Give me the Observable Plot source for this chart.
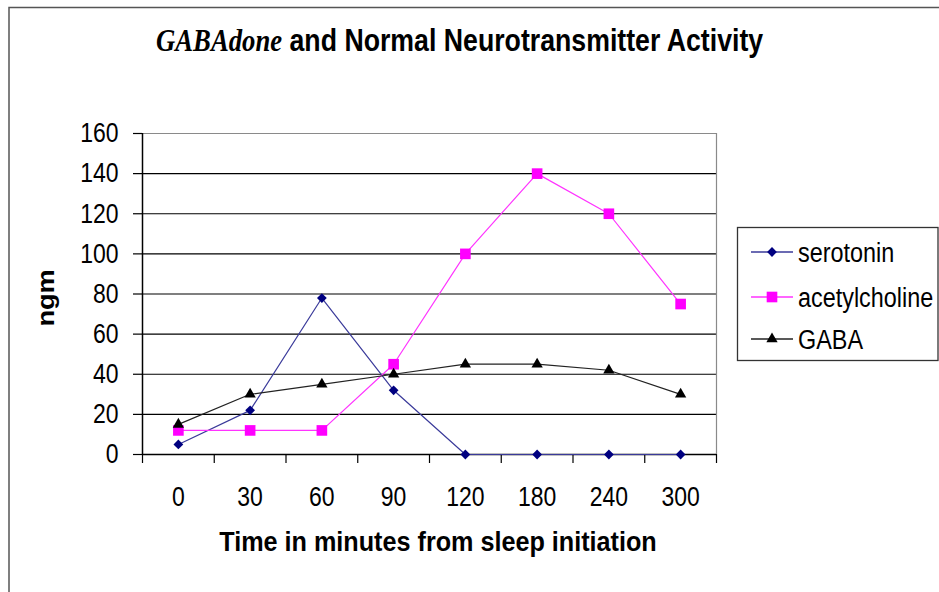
<!DOCTYPE html>
<html><head><meta charset="utf-8">
<script src="https://cdn.jsdelivr.net/npm/d3@7"></script>
<script src="https://cdn.jsdelivr.net/npm/@observablehq/plot@0.6"></script>
<style>body{margin:0;background:#fff} #chart svg{display:block}</style>
</head><body><div id="chart"></div>
<script>
const times = ["0", "30", "60", "90", "120", "180", "240", "300"];
const serotonin = [5, 22, 78, 32, 0, 0, 0, 0];
const acetylcholine = [12, 12, 12, 45, 100, 140, 120, 75];
const gaba = [15, 30, 35, 40, 45, 45, 42, 30];
const yTicks = [0, 20, 40, 60, 80, 100, 120, 140, 160];
const seriesNames = ["serotonin", "acetylcholine", "GABA"];
const seriesValues = [serotonin, acetylcholine, gaba];
const lineColors = ["#3a3a9a", "#ff33ff", "#222222"];
const markerColors = ["#000080", "#ff00ff", "#000000"];
const symbols = ["diamond2", "square", "triangle"];
const radii = [4.4, 6.0, 4.2];

const W = 939, H = 592;
const FONT = "'Liberation Sans', Arial, sans-serif";

const series = seriesNames.map((name, s) => ({
  name,
  data: seriesValues[s].map((v, i) => ({ x: i + 0.5, v, t: times[i] })),
  line: lineColors[s], fill: markerColors[s], symbol: symbols[s], r: radii[s]
}));

const marks = [
  Plot.ruleY(yTicks.filter(d => d > 0 && d < 160), { stroke: "#000", strokeWidth: 1.1 }),
  Plot.ruleY([160], { stroke: "#8a8a8a", strokeWidth: 1.2 }),
  Plot.ruleX([8], { stroke: "#8a8a8a", strokeWidth: 1.2 }),
  Plot.axisY({ ticks: yTicks, tickSize: 9, tickPadding: 15, label: null, fontSize: 23, stroke: "#000", strokeWidth: 1.2 }),
  Plot.axisX({ ticks: d3.range(0, 9), tickSize: 9, tickFormat: () => "", label: null, strokeWidth: 1.2 }),
  Plot.axisX({ ticks: times.map((t, i) => i + 0.5), tickSize: 0, tickPadding: 34, tickFormat: d => times[Math.round(d - 0.5)], label: null, fontSize: 23 }),
  Plot.ruleX([0], { stroke: "#000", strokeWidth: 1.5 }),
  Plot.ruleY([0], { stroke: "#000", strokeWidth: 1.5 })
];
for (const s of series) {
  marks.push(Plot.line(s.data, { x: "x", y: "v", stroke: s.line, strokeWidth: 1.2 }));
  marks.push(Plot.dot(s.data, { x: "x", y: "v", symbol: () => s.symbol, r: s.r, fill: s.fill, stroke: "none" }));
}

const chart = Plot.plot({
  width: W, height: H,
  marginLeft: 142, marginRight: W - 716, marginTop: 133, marginBottom: H - 454,
  style: { fontFamily: FONT, fontSize: "23px", color: "#000", background: "#fff", overflow: "visible" },
  x: { domain: [0, 8], axis: null },
  y: { domain: [0, 160], axis: null },
  symbol: { type: "identity" },
  marks
});
document.getElementById("chart").appendChild(chart);

const svg = d3.select(chart);
const K = 1.18;
// stretch existing (axis) text vertically like the reference
svg.selectAll("text").each(function () {
  const tr = this.getAttribute("transform") || "";
  const b = this.getBBox();
  const cy = b.y + b.height / 2;
  this.setAttribute("transform", `${tr} translate(0,${cy}) scale(1,${K}) translate(0,${-cy})`);
});

function stretched(sel, x, y, k) {
  sel.attr("transform", `translate(${x},${y}) scale(1,${k})`);
  return sel;
}

// outer frame
svg.append("rect").attr("x", 9).attr("y", 7.5).attr("width", W).attr("height", H)
  .attr("fill", "none").attr("stroke", "#555").attr("stroke-width", 1.5);

// title
const title = svg.append("text").attr("text-anchor", "start").attr("dominant-baseline", "central").attr("font-size", 26.7);
title.append("tspan").attr("font-family", "'Liberation Serif', 'Times New Roman', serif")
  .attr("font-style", "italic").attr("font-weight", "bold").text("GABAdone");
title.append("tspan").attr("font-family", FONT).attr("font-weight", "bold").text(" and Normal Neurotransmitter Activity");
stretched(title, 156, 40, 1.15);

// axis titles
stretched(svg.append("text").attr("text-anchor", "middle").attr("dominant-baseline", "central")
  .attr("font-family", FONT).attr("font-weight", "bold").attr("font-size", 25.2)
  .text("Time in minutes from sleep initiation"), 438, 542, 1.1);
svg.append("text").attr("text-anchor", "middle").attr("dominant-baseline", "central")
  .attr("font-family", FONT).attr("font-weight", "bold").attr("font-size", 23)
  .attr("transform", "translate(46,298) rotate(-90) scale(1.18,1)").text("ngm");

// legend
const lg = svg.append("g");
lg.append("rect").attr("x", 737.5).attr("y", 227.5).attr("width", 200.5).attr("height", 133)
  .attr("fill", "#fff").attr("stroke", "#333").attr("stroke-width", 1.3);
const ly = [252, 297, 339];
series.forEach((s, k) => {
  lg.append("line").attr("x1", 751).attr("x2", 793).attr("y1", ly[k]).attr("y2", ly[k])
    .attr("stroke", s.line).attr("stroke-width", 1.4);
  const sym = { diamond2: d3.symbolDiamond2, square: d3.symbolSquare, triangle: d3.symbolTriangle }[s.symbol];
  lg.append("path").attr("d", d3.symbol(sym, Math.PI * s.r * s.r)())
    .attr("transform", `translate(772,${ly[k]})`).attr("fill", s.fill);
  stretched(lg.append("text").attr("text-anchor", "start").attr("dominant-baseline", "central").attr("font-family", FONT)
    .attr("font-size", 23.4).text(s.name), 798, ly[k], K);
});
</script></body></html>
